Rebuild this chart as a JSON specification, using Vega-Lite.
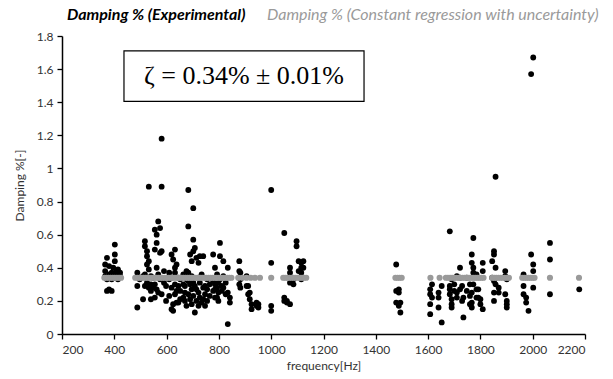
{
  "$schema": "https://vega.github.io/schema/vega-lite/v6.json",
  "autosize": "none",
  "width": 523,
  "height": 298,
  "padding": {"left": 62, "top": 36, "right": 28, "bottom": 45},
  "background": "white",
  "config": {
    "view": {"stroke": null},
    "axis": {
      "domainColor": "#000000", "domainWidth": 1.5, "tickColor": "#000000", "tickWidth": 1.3, "tickSize": 5,
      "grid": false, "labelFont": "Lato", "labelFontSize": 12, "labelColor": "#333333", "labelOverlap": false,
      "titleFont": "Lato", "titleFontSize": 12, "titleFontWeight": "normal", "titleColor": "#333333"
    }
  },
  "datasets": {
    "exp": [
      {"f":365,"d":0.42},{"f":365,"d":0.38},{"f":365,"d":0.35},
      {"f":372,"d":0.46},{"f":372,"d":0.26},{"f":372,"d":0.33},
      {"f":380,"d":0.41},{"f":380,"d":0.36},{"f":380,"d":0.27},
      {"f":390,"d":0.37},{"f":390,"d":0.33},{"f":390,"d":0.26},
      {"f":396,"d":0.40},{"f":396,"d":0.35},
      {"f":402,"d":0.54},{"f":402,"d":0.48},{"f":402,"d":0.44},{"f":402,"d":0.34},
      {"f":408,"d":0.36},{"f":408,"d":0.38},
      {"f":414,"d":0.39},{"f":414,"d":0.33},
      {"f":422,"d":0.37},{"f":422,"d":0.35},
      {"f":488,"d":0.37},{"f":488,"d":0.29},{"f":488,"d":0.16},
      {"f":497,"d":0.33},
      {"f":510,"d":0.21},{"f":510,"d":0.35},
      {"f":517,"d":0.56},{"f":517,"d":0.53},{"f":517,"d":0.36},{"f":517,"d":0.29},
      {"f":525,"d":0.50},{"f":525,"d":0.47},{"f":525,"d":0.42},{"f":525,"d":0.31},
      {"f":532,"d":0.89},{"f":532,"d":0.44},{"f":532,"d":0.39},{"f":532,"d":0.28},
      {"f":540,"d":0.35},{"f":540,"d":0.30},{"f":540,"d":0.26},{"f":540,"d":0.21},
      {"f":548,"d":0.34},{"f":548,"d":0.28},
      {"f":555,"d":0.63},{"f":555,"d":0.51},{"f":555,"d":0.30},{"f":555,"d":0.22},
      {"f":562,"d":0.55},{"f":562,"d":0.60},{"f":562,"d":0.40},{"f":562,"d":0.27},
      {"f":568,"d":0.68},{"f":568,"d":0.36},{"f":568,"d":0.25},
      {"f":575,"d":0.64},{"f":575,"d":0.49},{"f":575,"d":0.33},
      {"f":581,"d":1.18},{"f":581,"d":0.89},{"f":581,"d":0.50},{"f":581,"d":0.24},
      {"f":590,"d":0.38},{"f":590,"d":0.31},
      {"f":598,"d":0.29},{"f":598,"d":0.20},
      {"f":610,"d":0.37},{"f":610,"d":0.33},{"f":610,"d":0.23},
      {"f":619,"d":0.48},{"f":619,"d":0.34},{"f":619,"d":0.28},{"f":619,"d":0.15},
      {"f":625,"d":0.45},{"f":625,"d":0.18},{"f":625,"d":0.14},
      {"f":632,"d":0.51},{"f":632,"d":0.40},{"f":632,"d":0.37},{"f":632,"d":0.30},{"f":632,"d":0.24},
      {"f":638,"d":0.42},{"f":638,"d":0.26},{"f":638,"d":0.19},
      {"f":645,"d":0.19},{"f":645,"d":0.34},{"f":645,"d":0.29},
      {"f":652,"d":0.33},{"f":652,"d":0.26},{"f":652,"d":0.21},
      {"f":664,"d":0.36},{"f":664,"d":0.30},{"f":664,"d":0.22},
      {"f":670,"d":0.29},{"f":670,"d":0.25},{"f":670,"d":0.20},
      {"f":676,"d":0.38},{"f":676,"d":0.33},{"f":676,"d":0.17},
      {"f":683,"d":0.87},{"f":683,"d":0.65},{"f":683,"d":0.37},{"f":683,"d":0.32},{"f":683,"d":0.24},
      {"f":690,"d":0.48},{"f":690,"d":0.30},{"f":690,"d":0.21},
      {"f":696,"d":0.44},{"f":696,"d":0.35},{"f":696,"d":0.27},{"f":696,"d":0.18},
      {"f":702,"d":0.76},{"f":702,"d":0.57},{"f":702,"d":0.50},{"f":702,"d":0.31},{"f":702,"d":0.23},
      {"f":708,"d":0.52},{"f":708,"d":0.13},{"f":708,"d":0.29},
      {"f":714,"d":0.46},{"f":714,"d":0.27},{"f":714,"d":0.20},
      {"f":722,"d":0.43},{"f":722,"d":0.34},{"f":722,"d":0.25},{"f":722,"d":0.17},
      {"f":727,"d":0.47},{"f":727,"d":0.31},{"f":727,"d":0.22},
      {"f":734,"d":0.36},{"f":734,"d":0.19},
      {"f":740,"d":0.47},{"f":740,"d":0.28},{"f":740,"d":0.21},
      {"f":747,"d":0.29},{"f":747,"d":0.24},{"f":747,"d":0.17},
      {"f":755,"d":0.33},{"f":755,"d":0.27},{"f":755,"d":0.20},
      {"f":765,"d":0.30},{"f":765,"d":0.23},
      {"f":778,"d":0.48},{"f":778,"d":0.32},{"f":778,"d":0.26},
      {"f":785,"d":0.40},{"f":785,"d":0.27},{"f":785,"d":0.22},{"f":785,"d":0.30},
      {"f":793,"d":0.36},{"f":793,"d":0.28},{"f":793,"d":0.22},
      {"f":798,"d":0.25},{"f":798,"d":0.20},{"f":798,"d":0.31},
      {"f":804,"d":0.55},{"f":804,"d":0.47},{"f":804,"d":0.33},
      {"f":811,"d":0.29},{"f":811,"d":0.26},
      {"f":817,"d":0.44},{"f":817,"d":0.35},{"f":817,"d":0.28},
      {"f":826,"d":0.24},{"f":826,"d":0.31},
      {"f":834,"d":0.40},{"f":834,"d":0.06},{"f":834,"d":0.25},
      {"f":842,"d":0.19},{"f":842,"d":0.22},
      {"f":878,"d":0.44},{"f":878,"d":0.38},{"f":878,"d":0.30},
      {"f":882,"d":0.37},{"f":882,"d":0.33},{"f":882,"d":0.28},
      {"f":906,"d":0.35},{"f":906,"d":0.29},
      {"f":912,"d":0.29},{"f":912,"d":0.24},
      {"f":918,"d":0.21},{"f":918,"d":0.25},
      {"f":925,"d":0.15},{"f":925,"d":0.18},
      {"f":944,"d":0.17},{"f":944,"d":0.19},
      {"f":951,"d":0.16},{"f":951,"d":0.18},
      {"f":1000,"d":0.87},{"f":1000,"d":0.43},{"f":1000,"d":0.17},{"f":1000,"d":0.14},
      {"f":1050,"d":0.61},{"f":1050,"d":0.22},{"f":1050,"d":0.20},
      {"f":1060,"d":0.20},{"f":1060,"d":0.19},
      {"f":1072,"d":0.40},{"f":1072,"d":0.37},{"f":1072,"d":0.31},{"f":1072,"d":0.18},
      {"f":1085,"d":0.33},{"f":1085,"d":0.30},
      {"f":1097,"d":0.56},{"f":1097,"d":0.53},
      {"f":1105,"d":0.38},{"f":1105,"d":0.44},
      {"f":1115,"d":0.43},{"f":1115,"d":0.40},{"f":1115,"d":0.37},{"f":1115,"d":0.33},
      {"f":1123,"d":0.44},{"f":1123,"d":0.40},
      {"f":1478,"d":0.42},{"f":1478,"d":0.26},{"f":1478,"d":0.19},
      {"f":1488,"d":0.27},{"f":1488,"d":0.25},{"f":1488,"d":0.17},
      {"f":1494,"d":0.19},{"f":1494,"d":0.13},
      {"f":1608,"d":0.27},{"f":1608,"d":0.24},{"f":1608,"d":0.18},{"f":1608,"d":0.12},
      {"f":1615,"d":0.30},{"f":1615,"d":0.22},
      {"f":1640,"d":0.25},{"f":1640,"d":0.22},{"f":1640,"d":0.16},
      {"f":1652,"d":0.07},{"f":1652,"d":0.29},
      {"f":1683,"d":0.62},{"f":1683,"d":0.29},{"f":1683,"d":0.27},{"f":1683,"d":0.24},
      {"f":1690,"d":0.21},{"f":1690,"d":0.18},{"f":1690,"d":0.16},{"f":1690,"d":0.33},
      {"f":1700,"d":0.26},{"f":1700,"d":0.30},
      {"f":1710,"d":0.35},{"f":1710,"d":0.25},{"f":1710,"d":0.22},
      {"f":1722,"d":0.40},{"f":1722,"d":0.34},{"f":1722,"d":0.27},
      {"f":1730,"d":0.29},{"f":1730,"d":0.20},
      {"f":1735,"d":0.22},{"f":1735,"d":0.10},
      {"f":1748,"d":0.34},{"f":1748,"d":0.26},
      {"f":1760,"d":0.30},{"f":1760,"d":0.23},{"f":1760,"d":0.18},
      {"f":1767,"d":0.48},{"f":1767,"d":0.43},{"f":1767,"d":0.25},{"f":1767,"d":0.19},{"f":1767,"d":0.16},
      {"f":1773,"d":0.58},{"f":1773,"d":0.40},{"f":1773,"d":0.37},{"f":1773,"d":0.30},
      {"f":1785,"d":0.27},{"f":1785,"d":0.22},{"f":1785,"d":0.36},
      {"f":1792,"d":0.27},{"f":1792,"d":0.22},
      {"f":1800,"d":0.21},{"f":1800,"d":0.18},
      {"f":1809,"d":0.43},{"f":1809,"d":0.38},{"f":1809,"d":0.15},
      {"f":1845,"d":0.34},{"f":1845,"d":0.44},
      {"f":1852,"d":0.50},{"f":1852,"d":0.48},{"f":1852,"d":0.32},{"f":1852,"d":0.25},{"f":1852,"d":0.20},
      {"f":1858,"d":0.95},{"f":1858,"d":0.40},{"f":1858,"d":0.30},
      {"f":1870,"d":0.25},{"f":1870,"d":0.28},
      {"f":1895,"d":0.38},{"f":1895,"d":0.35},{"f":1895,"d":0.24},
      {"f":1901,"d":0.20},{"f":1901,"d":0.16},{"f":1901,"d":0.18},{"f":1901,"d":0.33},
      {"f":1965,"d":0.36},{"f":1965,"d":0.29},{"f":1965,"d":0.24},
      {"f":1975,"d":0.22},{"f":1975,"d":0.19},
      {"f":1984,"d":0.14},
      {"f":1994,"d":1.57},{"f":1994,"d":0.48},
      {"f":2002,"d":1.67},{"f":2002,"d":0.42},{"f":2002,"d":0.38},{"f":2002,"d":0.28},
      {"f":2066,"d":0.55},{"f":2066,"d":0.45},{"f":2066,"d":0.24},
      {"f":2178,"d":0.27}
    ],
    "reg": [
      {"f":362,"d":0.34},{"f":370,"d":0.34},{"f":378,"d":0.34},{"f":386,"d":0.34},{"f":394,"d":0.34},{"f":402,"d":0.34},{"f":410,"d":0.34},{"f":418,"d":0.34},{"f":426,"d":0.34},
      {"f":480,"d":0.34},{"f":488,"d":0.34},{"f":496,"d":0.34},{"f":504,"d":0.34},{"f":512,"d":0.34},{"f":520,"d":0.34},{"f":528,"d":0.34},{"f":536,"d":0.34},{"f":544,"d":0.34},{"f":552,"d":0.34},{"f":560,"d":0.34},{"f":568,"d":0.34},{"f":576,"d":0.34},{"f":584,"d":0.34},{"f":592,"d":0.34},{"f":600,"d":0.34},{"f":608,"d":0.34},{"f":616,"d":0.34},{"f":624,"d":0.34},{"f":632,"d":0.34},{"f":640,"d":0.34},{"f":648,"d":0.34},{"f":656,"d":0.34},{"f":664,"d":0.34},{"f":672,"d":0.34},{"f":680,"d":0.34},{"f":688,"d":0.34},{"f":696,"d":0.34},{"f":704,"d":0.34},{"f":712,"d":0.34},{"f":720,"d":0.34},{"f":728,"d":0.34},{"f":736,"d":0.34},{"f":744,"d":0.34},{"f":752,"d":0.34},{"f":760,"d":0.34},{"f":768,"d":0.34},{"f":776,"d":0.34},{"f":784,"d":0.34},{"f":792,"d":0.34},{"f":800,"d":0.34},{"f":808,"d":0.34},{"f":816,"d":0.34},{"f":824,"d":0.34},{"f":832,"d":0.34},{"f":840,"d":0.34},{"f":848,"d":0.34},
      {"f":874,"d":0.34},{"f":890,"d":0.34},{"f":906,"d":0.34},{"f":922,"d":0.34},{"f":938,"d":0.34},{"f":957,"d":0.34},{"f":1000,"d":0.34},
      {"f":1046,"d":0.34},{"f":1054,"d":0.34},{"f":1062,"d":0.34},{"f":1070,"d":0.34},{"f":1078,"d":0.34},{"f":1086,"d":0.34},{"f":1094,"d":0.34},{"f":1102,"d":0.34},{"f":1110,"d":0.34},{"f":1118,"d":0.34},{"f":1126,"d":0.34},{"f":1134,"d":0.34},
      {"f":1475,"d":0.34},{"f":1483,"d":0.34},{"f":1491,"d":0.34},{"f":1499,"d":0.34},
      {"f":1609,"d":0.34},{"f":1644,"d":0.34},
      {"f":1668,"d":0.34},{"f":1676,"d":0.34},{"f":1684,"d":0.34},{"f":1692,"d":0.34},{"f":1700,"d":0.34},{"f":1708,"d":0.34},{"f":1716,"d":0.34},{"f":1724,"d":0.34},{"f":1732,"d":0.34},{"f":1740,"d":0.34},{"f":1748,"d":0.34},{"f":1756,"d":0.34},{"f":1764,"d":0.34},{"f":1772,"d":0.34},{"f":1780,"d":0.34},{"f":1788,"d":0.34},{"f":1796,"d":0.34},{"f":1804,"d":0.34},{"f":1812,"d":0.34},
      {"f":1845,"d":0.34},{"f":1853,"d":0.34},{"f":1861,"d":0.34},{"f":1869,"d":0.34},{"f":1877,"d":0.34},{"f":1885,"d":0.34},{"f":1893,"d":0.34},{"f":1901,"d":0.34},{"f":1909,"d":0.34},
      {"f":1960,"d":0.34},{"f":1968,"d":0.34},{"f":1976,"d":0.34},{"f":1984,"d":0.34},{"f":1992,"d":0.34},{"f":2000,"d":0.34},{"f":2007,"d":0.34},
      {"f":2066,"d":0.34},{"f":2177,"d":0.34}
    ]
  },
  "layer": [
    {
      "data": {"name": "exp"},
      "mark": {"type": "point", "shape": "circle", "filled": true, "size": 34, "opacity": 1},
      "encoding": {
        "x": {"field": "f", "type": "quantitative",
          "scale": {"domain": [200, 2200], "nice": false, "zero": false},
          "axis": {"values": [200,400,600,800,1000,1200,1400,1600,1800,2000,2200], "format": "d", "title": "frequency[Hz]", "labelPadding": 5, "titlePadding": 5}},
        "y": {"field": "d", "type": "quantitative",
          "scale": {"domain": [0, 1.8], "nice": false},
          "axis": {"values": [0,0.2,0.4,0.6,0.8,1,1.2,1.4,1.6,1.8], "format": "~g", "title": "Damping %[-]", "labelPadding": 4, "titlePadding": 10}},
        "color": {"datum": "Damping % (Experimental)", "type": "nominal",
          "scale": {"domain": ["Damping % (Experimental)", "Damping % (Constant regression with uncertainty)"], "range": ["#000000", "#9a9a9a"]},
          "legend": {
            "orient": "none", "legendX": -11, "legendY": -29, "direction": "horizontal", "title": null,
            "symbolSize": 0, "symbolOpacity": 0, "symbolStrokeWidth": 0, "labelOffset": 0, "columnPadding": 5,
            "labelFont": "Lato", "labelFontSize": 16, "labelFontStyle": "italic", "labelLimit": 0,
            "encode": {"labels": {"update": {
              "fill": {"signal": "datum.value == 'Damping % (Experimental)' ? '#000000' : '#9a9a9a'"},
              "fontWeight": {"signal": "datum.value == 'Damping % (Experimental)' ? 'bold' : 'normal'"}
            }}}
          }}
      }
    },
    {
      "data": {"name": "reg"},
      "mark": {"type": "point", "shape": "circle", "filled": true, "size": 38, "opacity": 1},
      "encoding": {
        "x": {"field": "f", "type": "quantitative",
          "axis": {"values": [200,400,600,800,1000,1200,1400,1600,1800,2000,2200], "format": "d", "title": "frequency[Hz]", "labelPadding": 5, "titlePadding": 5}},
        "y": {"field": "d", "type": "quantitative",
          "axis": {"values": [0,0.2,0.4,0.6,0.8,1,1.2,1.4,1.6,1.8], "format": "~g", "title": "Damping %[-]", "labelPadding": 4, "titlePadding": 10}},
        "color": {"datum": "Damping % (Constant regression with uncertainty)", "type": "nominal"}
      }
    },
    {
      "data": {"values": [{}]},
      "mark": {"type": "rect", "fill": "white", "stroke": "#000000", "strokeWidth": 1.2},
      "encoding": {
        "x": {"datum": 437, "type": "quantitative",
          "axis": {"values": [200,400,600,800,1000,1200,1400,1600,1800,2000,2200], "format": "d", "title": "frequency[Hz]", "labelPadding": 5, "titlePadding": 5}},
        "x2": {"datum": 1355},
        "y": {"datum": 1.71, "type": "quantitative",
          "axis": {"values": [0,0.2,0.4,0.6,0.8,1,1.2,1.4,1.6,1.8], "format": "~g", "title": "Damping %[-]", "labelPadding": 4, "titlePadding": 10}},
        "y2": {"datum": 1.405}
      }
    },
    {
      "data": {"values": [{}]},
      "mark": {"type": "text", "text": "ζ = 0.34% ± 0.01%", "font": "Liberation Serif", "fontSize": 26, "align": "center", "baseline": "middle", "color": "#000000"},
      "encoding": {
        "x": {"datum": 896, "type": "quantitative",
          "axis": {"values": [200,400,600,800,1000,1200,1400,1600,1800,2000,2200], "format": "d", "title": "frequency[Hz]", "labelPadding": 5, "titlePadding": 5}},
        "y": {"datum": 1.557, "type": "quantitative",
          "axis": {"values": [0,0.2,0.4,0.6,0.8,1,1.2,1.4,1.6,1.8], "format": "~g", "title": "Damping %[-]", "labelPadding": 4, "titlePadding": 10}}
      }
    }
  ]
}
